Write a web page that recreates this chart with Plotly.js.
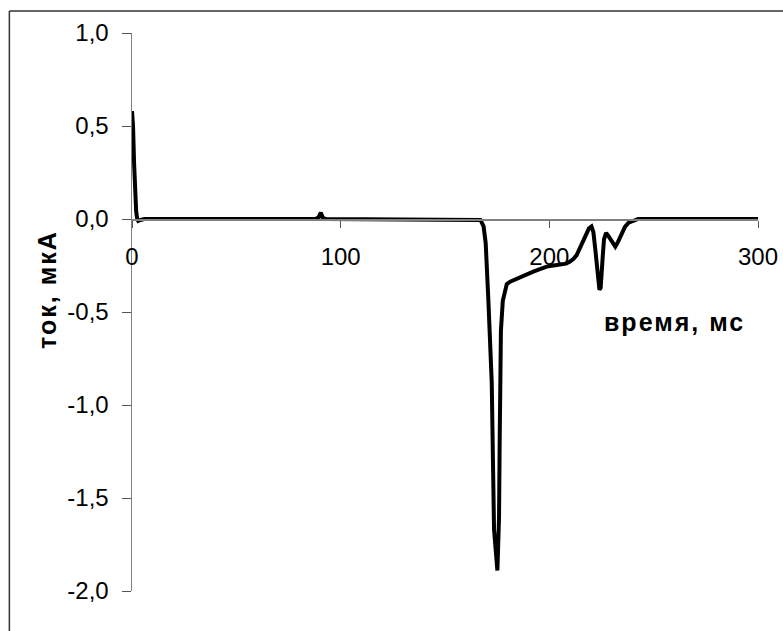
<!DOCTYPE html>
<html>
<head>
<meta charset="utf-8">
<script src="https://cdn.plot.ly/plotly-3.0.1.min.js"></script>
<style>html,body{margin:0;padding:0;background:#fff}#chart{width:783px;height:631px}
#chart .annotation-text{letter-spacing:2px}</style>
</head>
<body>
<div id="chart"></div>
<script>
const timeMs = [0, 0.5, 1, 1.5, 2, 2.5, 3, 4, 6, 88, 89.5, 90.5, 91.5, 93,
  165, 167, 168.5, 169.5, 170.8, 171.5, 171.9, 172.4, 173.5, 174.5, 175.1, 175.5, 175.9, 176.2, 176.5, 176.8,
  177.7, 178.6, 179.6, 181.2, 183.5, 186, 189, 192.3, 195.5, 198.7, 202, 205.1, 208, 209.9, 211.5, 213.1,
  214.5, 215.5, 216.8, 217.9, 219, 220.2, 221.1, 222, 222.7, 223.4, 224, 224.6, 225.1, 225.6, 226.2,
  227.2, 228.2, 229.1, 230.3, 231.6, 232.8, 233.9, 235.2, 236.3, 238, 239.5, 241, 242.6, 245, 300];
const currentUA = [0.58, 0.5, 0.3, 0.13, 0.04, 0.0, -0.01, -0.005, 0, 0, 0.01, 0.034, 0.005, 0,
  0, -0.005, -0.04, -0.13, -0.44, -0.7, -0.87, -0.88, -1.67, -1.85, -1.89, -1.75, -1.6, -1.2, -0.85, -0.6,
  -0.44, -0.39, -0.35, -0.337, -0.325, -0.315, -0.3, -0.283, -0.27, -0.256, -0.25, -0.247, -0.24, -0.229, -0.215, -0.194,
  -0.16, -0.131, -0.1, -0.077, -0.05, -0.04, -0.07, -0.16, -0.256, -0.34, -0.38, -0.37, -0.31, -0.2, -0.11,
  -0.075, -0.09, -0.105, -0.13, -0.149, -0.125, -0.095, -0.065, -0.041, -0.02, -0.015, -0.008, 0, 0, 0];
const xTicks = [0, 100, 200, 300];
const xTickText = ['0', '100', '200', '300'];
const yTicks = [-2, -1.5, -1, -0.5, 0, 0.5, 1];
const yTickText = ['-2,0', '-1,5', '-1,0', '-0,5', '0,0', '0,5', '1,0'];
const xTitle = 'время, мс';
const yTitle = 'ток, мкА';

const FONT = 'Liberation Sans, Arial, sans-serif';

const trace = {
  x: timeMs, y: currentUA, type: 'scatter', mode: 'lines',
  line: {color: '#000', width: 4}, cliponaxis: false, showlegend: false
};

const layout = {
  width: 783, height: 631,
  margin: {l: 131.7, r: 25, t: 33, b: 40},
  paper_bgcolor: '#fff', plot_bgcolor: '#fff',
  font: {family: FONT, size: 24, color: '#000'},
  xaxis: {
    range: [0, 300], tickvals: xTicks, ticktext: xTickText,
    anchor: 'free', position: 2/3,
    showline: true, linecolor: '#808080', linewidth: 1.5,
    ticks: 'outside', ticklen: 7, tickcolor: '#555', tickwidth: 1,
    ticklabelstandoff: 9,
    showgrid: false, zeroline: false, fixedrange: true
  },
  yaxis: {
    range: [-2, 1], tickvals: yTicks, ticktext: yTickText,
    showline: true, linecolor: '#808080', linewidth: 1.5,
    ticks: 'outside', ticklen: 9, tickcolor: '#555', tickwidth: 1,
    ticklabelstandoff: 8,
    showgrid: false, zeroline: false, fixedrange: true
  },
  annotations: [
    {text: '<b>' + xTitle + '</b>', xref: 'x', yref: 'y', x: 260, y: -0.555,
     xanchor: 'center', yanchor: 'middle',
     showarrow: false, font: {size: 25, family: FONT}},
    {text: '<b>' + yTitle + '</b>', xref: 'paper', yref: 'y', x: -0.137, y: -0.38,
     xanchor: 'center', yanchor: 'middle',
     textangle: -90, showarrow: false, font: {size: 25, family: FONT}}
  ],
  shapes: [
    {type: 'line', xref: 'paper', yref: 'paper', x0: -0.1959, x1: -0.1959, y0: 1.0394, y1: -0.08,
     line: {color: '#333', width: 1.5}},
    {type: 'line', xref: 'paper', yref: 'paper', x0: -0.1959, x1: 1.05, y0: 1.0394, y1: 1.0394,
     line: {color: '#333', width: 1.5}}
  ]
};

Plotly.newPlot('chart', [trace], layout, {staticPlot: true, displayModeBar: false});
</script>
</body>
</html>
